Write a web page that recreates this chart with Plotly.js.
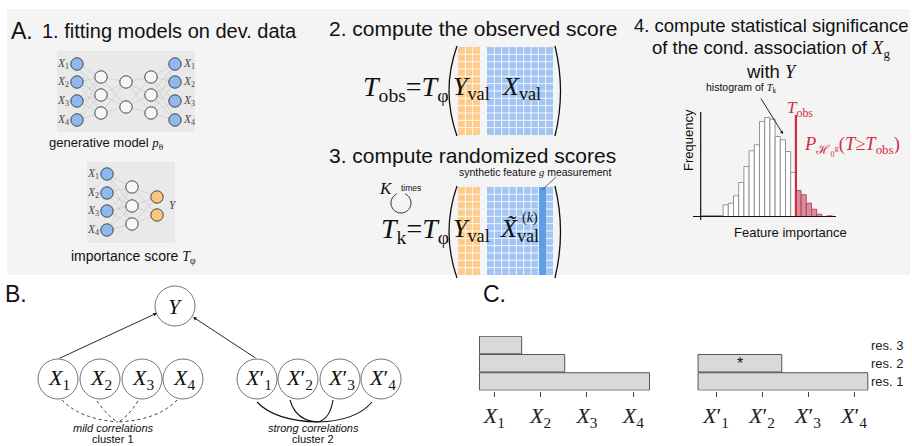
<!DOCTYPE html>
<html><head><meta charset="utf-8">
<script src="https://cdn.plot.ly/plotly-3.0.1.min.js"></script>
<style>html,body{margin:0;padding:0;background:#fff;}</style>
</head><body>
<div id="chart" style="width:912px;height:446px"></div>
<script>
// ---------------- DATA ----------------
// Panel A.4 : histogram of randomized scores T_k (relative frequency per bin)
const histBins   = [0,1,2,3,4,5,6,7,8,9,10,11,12,13,14,15,16,17,18,19,20,21,22,23,24];
const histCounts = [1,1,1,1,11.7,13.3,20.7,34,50,65.7,71.7,95,99,97.3,80,76.7,65,44,26,21.7,13.3,7.3,2.3,0,0.7];
const tObsBin = 17.5;              // position of observed score T_obs (between bins)
// Panel C : hierarchical testing results (start / end of each resolution block)
const leftFeatures  = ['<i>X</i><sub>1</sub>','<i>X</i><sub>2</sub>','<i>X</i><sub>3</sub>','<i>X</i><sub>4</sub>'];
const rightFeatures = ['<i>X</i>′<sub>1</sub>','<i>X</i>′<sub>2</sub>','<i>X</i>′<sub>3</sub>','<i>X</i>′<sub>4</sub>'];
const featurePos    = [1,2,3,4];
const resLevels     = [1,2,3];
const resLabels     = ['res. 1','res. 2','res. 3'];
const leftRes   = [1,2,3];
const leftStart = [0.68,0.68,0.68];
const leftEnd   = [4.35,2.52,1.59];
const rightRes   = [1,2];
const rightStart = [0.61,0.61];
const rightEnd   = [4.30,2.43];
const rightStarLevel = 2;

// ---------------- LAYOUT HELPERS ----------------
const W = 912, H = 446;
const SANS = 'Liberation Sans, Arial, sans-serif';
const SERIF = 'Liberation Serif, DejaVu Serif, serif';
const SER = '<span style="font-family:\'Liberation Serif\'">';
const px = v => v / W;
const py = v => 1 - v / H;
const shapes = [];
const annotations = [];

function rect(x0,y0,x1,y1,fill,line,lw,layer){ shapes.push({type:'rect',xref:'x',yref:'y',x0,y0,x1,y1,fillcolor:fill,line:{color:line||'rgba(0,0,0,0)',width:lw||0},layer:layer||'below'}); }
function circ(cx,cy,r,fill,line,lw,layer){ shapes.push({type:'circle',xref:'x',yref:'y',x0:cx-r,y0:cy-r,x1:cx+r,y1:cy+r,fillcolor:fill,line:{color:line,width:lw},layer:layer||'above'}); }
function path(d,color,lw,dash,layer){ shapes.push({type:'path',xref:'x',yref:'y',path:d,line:{color,width:lw,dash:dash||'solid'},layer:layer||'above'}); }
function line(x0,y0,x1,y1,color,lw,layer){ shapes.push({type:'line',xref:'x',yref:'y',x0,y0,x1,y1,line:{color,width:lw},layer:layer||'above'}); }
function txt(x,y,text,size,o){ o=o||{}; annotations.push({x,y,xref:o.xref||'x',yref:o.yref||'y',text,showarrow:false,
  font:{family:o.family||SANS,size,color:o.color||'#111'},xanchor:o.xanchor||'center',yanchor:o.yanchor||'middle',textangle:o.angle||0}); }
function arrow(x0,y0,x1,y1,size){ annotations.push({x:x1,y:y1,ax:x0,ay:y0,xref:'x',yref:'y',axref:'x',ayref:'y',text:'',showarrow:true,arrowhead:2,arrowsize:size||0.8,arrowwidth:0.9,arrowcolor:'#111',standoff:0}); }

// ---------------- PANEL A ----------------
rect(7,9,910,275,'#f4f4f4');
txt(9,31,'A.',23,{xanchor:'left'});
txt(40,31,'1. fitting models on dev. data',20,{xanchor:'left'});

function network(layers,colors){
  let d='';
  for(let i=0;i<layers.length-1;i++){
    const [xa,ya]=layers[i],[xb,yb]=layers[i+1];
    ya.forEach(a=>yb.forEach(b=>{ d+=`M${xa},${a}L${xb},${b}`; }));
  }
  path(d,'rgba(150,150,150,0.4)',0.6);
  layers.forEach(([x,ys],i)=>ys.forEach(y=>circ(x,y,6.2,colors[i],'#333',0.9)));
}
rect(57,51,195,132,'#e9e9e9');
const BLUE='#8fb9ee', ORANGE='#f9c77f', WH='#f7f7f7';
network([[77,[64,82,101,120]],[101,[77,95,113]],[126,[82,107]],[151,[77,95,113]],[175,[64,82,101,120]]],[BLUE,WH,WH,WH,BLUE]);
[64,82,101,120].forEach((y,i)=>{
  txt(71,y,`<i>X</i><sub>${i+1}</sub>`,11.5,{family:SERIF,xanchor:'right',color:'#444'});
  txt(181,y,`<i>X</i><sub>${i+1}</sub>`,11.5,{family:SERIF,xanchor:'left',color:'#444'});
});
txt(106,143,'generative model '+SER+'<i>p</i><sub>θ</sub></span>',13);

rect(87,162,175,243,'#e9e9e9');
network([[107,[174,193,211,230]],[132,[187,206,224]],[157,[197,215]]],[BLUE,WH,ORANGE]);
[174,193,211,230].forEach((y,i)=>txt(101,y,`<i>X</i><sub>${i+1}</sub>`,11.5,{family:SERIF,xanchor:'right',color:'#444'}));
txt(167,205,'<i>Y</i>',11.5,{family:SERIF,xanchor:'left',color:'#444'});
txt(133,257,'importance score '+SER+'<i>T</i><sub>φ</sub></span>',14);

function grid(x0,y0,x1,y1,cols,rowH,fill){
  rect(x0,y0,x1,y1,fill);
  let d='';
  const cw=(x1-x0)/cols;
  for(let c=1;c<cols;c++){ const x=x0+c*cw; d+=`M${x},${y0}L${x},${y1}`; }
  for(let y=y0+rowH;y<y1-1;y+=rowH){ d+=`M${x0},${y}L${x1},${y}`; }
  path(d,'rgba(255,255,255,0.85)',1,'solid','below');
}
const MB='#a2c5f3', MO='#fdcb8c';
txt(327,28,'2. compute the observed score',21,{xanchor:'left'});
grid(458,47,480,135,3,7.33,MO);
grid(487,47,553,135,9,7.33,MB);
path('M457,46Q441,91 457,136','#111',1.3);
path('M555,46Q566,91 555,136','#111',1.3);
txt(451,88,'<i>T</i><sub>obs</sub>=<i>T</i><sub>φ</sub>',28,{family:SERIF,xanchor:'right'});
txt(471,88,'<i>Y</i><sub>val</sub>',26,{family:SERIF});
txt(521,88,'<i>X</i><sub>val</sub>',26,{family:SERIF});

txt(327,155,'3. compute randomized scores',21,{xanchor:'left'});
grid(458,187,480,275,3,7.33,MO);
grid(487,187,553,275,9,7.33,MB);
rect(539,187,546,275,'#5f9de8','rgba(0,0,0,0)',0,'below');
path('M457,186Q441,232 457,278','#111',1.3);
path('M555,186Q566,232 555,278','#111',1.3);
txt(451,230,'<i>T</i><sub>k</sub>=<i>T</i><sub>φ</sub>',28,{family:SERIF,xanchor:'right'});
txt(471,230,'<i>Y</i><sub>val</sub>',26,{family:SERIF});
txt(519,230,'<i>X̃</i><sub>val</sub>',26,{family:SERIF});
txt(530,218,'(<i>k</i>)',14,{family:SERIF});
txt(535,172,'synthetic feature '+SER+'<i>g</i></span> measurement',10.5);
line(556,177,542,190,'#444',0.8);
(function(){ const cx=401,cy=203,r=10; let d=''; for(let a=115;a<=425;a+=5){ const t=a*Math.PI/180; const x=cx+r*Math.cos(t), y=cy-r*Math.sin(t); d+=(a===115?'M':'L')+x.toFixed(2)+','+y.toFixed(2);} path(d,'#222',1); })();
txt(386,188,'<i>K</i>',17,{family:SERIF});
txt(411,188,'times',8.5);

txt(771,25,'4. compute statistical significance',18.5);
txt(771,49,'of the cond. association of '+SER+'<i>X</i><sub>g</sub></span>',18.5);
txt(771,71,'with '+SER+'<i>Y</i></span>',18.5);
txt(741,88,'histogram of '+SER+'<i>T</i><sub>k</sub></span>',10.5);
arrow(760,97,783,134,0.7);
line(700.7,112,700.7,220,'#111',1.2);
line(693,216.5,836,216.5,'#111',1.2);
shapes.push({type:'line',xref:'x2',yref:'y',x0:tObsBin,x1:tObsBin,y0:115,y1:216,line:{color:'#d42a3f',width:2.2},layer:'above'});
txt(800,109,'<i>T</i><sub>obs</sub>',17,{family:SERIF,color:'#d42a3f'});
txt(802,145,'<i>P</i><sub>ℋ₀ᵍ</sub>(<i>T</i>≥<i>T</i><sub>obs</sub>)',18.5,{family:SERIF,color:'#d42a3f',xanchor:'left'});
txt(688,140,'Frequency',13,{angle:-90});
txt(790,232,'Feature importance',13);

// ---------------- PANEL B ----------------
txt(3,294,'B.',23,{xanchor:'left'});
circ(175,306,20,'rgba(255,255,255,0)','#666',0.9);
txt(175,306,'<i>Y</i>',22,{family:SERIF});
const bx=[58,100,142,183], bxp=[257,298,340,381], by=379;
bx.forEach((x,i)=>{ circ(x,by,20,'rgba(255,255,255,0)','#666',0.9); txt(x+1,by,`<i>X</i><sub>${i+1}</sub>`,22,{family:SERIF}); });
bxp.forEach((x,i)=>{ circ(x,by,20,'rgba(255,255,255,0)','#666',0.9); txt(x+1,by,`<i>X</i>′<sub>${i+1}</sub>`,22,{family:SERIF}); });
arrow(58,359,157,313,0.8);
arrow(257,359,193,317,0.8);
path('M62,400Q80,419 118,422','#222',0.9,'dot');
path('M97,401Q108,417 118,422','#222',0.9,'dot');
path('M138,401Q128,417 118,422','#222',0.9,'dot');
path('M177,400Q158,420 118,422','#222',0.9,'dot');
path('M257,402Q275,421 318,422','#111',1.1);
path('M290,400Q296,421 318,422','#111',1.1);
path('M333,400Q330,419 318,422','#111',1.1);
path('M372,402Q356,421 318,422','#111',1.1);
txt(113,428,'<i>mild correlations</i>',11);
txt(113,439,'cluster 1',11);
txt(313,428,'<i>strong correlations</i>',11);
txt(313,439,'cluster 2',11);

// ---------------- PANEL C ----------------
txt(481,294,'C.',23,{xanchor:'left'});
annotations.push({x:(rightStart[1]+rightEnd[1])/2,y:rightStarLevel,xref:'x4',yref:'y4',text:'*',showarrow:false,font:{family:SANS,size:16,color:'#111'},yanchor:'middle'});

// ---------------- TRACES ----------------
const histColors = histBins.map(b=> b>tObsBin ? 'rgba(205,95,115,0.7)' : 'rgba(255,255,255,0.95)');
const histLines  = histBins.map(b=> b>tObsBin ? '#b0485a' : '#8a8a8a');
const traces = [
  {type:'scatter',x:[0],y:[0],xaxis:'x',yaxis:'y',mode:'markers',marker:{opacity:0},hoverinfo:'skip'},
  {type:'bar',x:histBins,y:histCounts,xaxis:'x2',yaxis:'y2',width:1,marker:{color:histColors,line:{color:histLines,width:0.9}},hoverinfo:'skip'},
  {type:'bar',orientation:'h',y:leftRes,x:leftEnd.map((e,i)=>e-leftStart[i]),base:leftStart,xaxis:'x3',yaxis:'y3',width:0.96,
   marker:{color:'#d9d9d9',line:{color:'#555',width:1}},hoverinfo:'skip'},
  {type:'bar',orientation:'h',y:rightRes,x:rightEnd.map((e,i)=>e-rightStart[i]),base:rightStart,xaxis:'x4',yaxis:'y4',width:0.96,
   marker:{color:'#d9d9d9',line:{color:'#555',width:1}},hoverinfo:'skip'}
];

const hx0=702.3, hw=5.2, hdom=[693,836];
const cY = [390.6,335.9];
const lTick=494.3, lStep=46.33, rTick=716, rStep=46;
const tickAxis = (dom,first,step,labels) => ({
  domain:[px(dom[0]),px(dom[1])], range:[1+(dom[0]-first)/step, 1+(dom[1]-first)/step],
  tickvals:featurePos, ticktext:labels, ticks:'outside', ticklen:5, tickwidth:1, tickcolor:'#444',
  showline:false, showgrid:false, zeroline:false, tickfont:{family:SERIF,size:22,color:'#222'}, fixedrange:true
});
const layout = {
  width:W, height:H, margin:{l:0,r:0,t:0,b:0}, paper_bgcolor:'#ffffff', plot_bgcolor:'rgba(0,0,0,0)',
  showlegend:false, barmode:'overlay', dragmode:false,
  xaxis:{domain:[0,1],range:[0,W],visible:false,fixedrange:true},
  yaxis:{domain:[0,1],range:[H,0],visible:false,fixedrange:true},
  xaxis2:{domain:[px(hdom[0]),px(hdom[1])],range:[(hdom[0]-hx0)/hw-0.5,(hdom[1]-hx0)/hw-0.5],visible:false,anchor:'y2'},
  yaxis2:{domain:[py(216.5),py(110)],range:[0,106.5],visible:false,anchor:'x2'},
  xaxis3:Object.assign(tickAxis([471,656.5],lTick,lStep,leftFeatures),{anchor:'y3'}),
  yaxis3:{domain:[py(cY[0]),py(cY[1])],range:[0.5,3.5],visible:false,anchor:'x3'},
  xaxis4:Object.assign(tickAxis([693,870],rTick,rStep,rightFeatures),{anchor:'y4'}),
  yaxis4:{domain:[py(cY[0]),py(cY[1])],range:[0.5,3.5],anchor:'x4',side:'right',tickvals:resLevels,ticktext:resLabels,
          ticks:'',showline:false,showgrid:false,zeroline:false,tickfont:{family:SANS,size:13,color:'#222'},fixedrange:true},
  shapes, annotations
};
Plotly.newPlot('chart',traces,layout,{staticPlot:true,displayModeBar:false});
</script>
</body></html>
